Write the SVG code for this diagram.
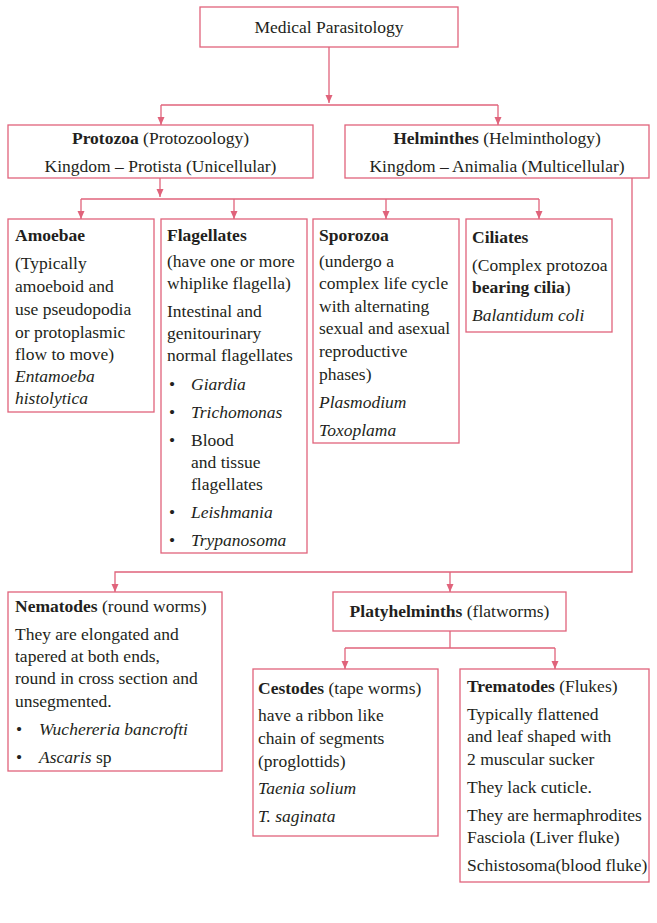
<svg xmlns="http://www.w3.org/2000/svg" width="657" height="923" viewBox="0 0 657 923">
<style>
.box{fill:#fff;stroke:#e0637b;stroke-width:1.3}
.ln{fill:none;stroke:#e0637b;stroke-width:1.3}
.t{font-family:"Liberation Serif","Times New Roman",serif;font-size:17.5px;fill:#231f20}
.b{font-weight:bold}
.i{font-style:italic}
.c{text-anchor:middle}
</style>
<defs>
<marker id="ah" markerUnits="userSpaceOnUse" markerWidth="9" markerHeight="8" refX="8" refY="3.5" orient="auto">
<path d="M0,0 L8,3.5 L0,7 z" fill="#e0637b"/>
</marker>
</defs>
<rect width="657" height="923" fill="#fff"/>
<g id="connectors">
<path class="ln" d="M329,47 V103" marker-end="url(#ah)"/>
<path class="ln" d="M161,105 H498"/>
<path class="ln" d="M161,105 V125" marker-end="url(#ah)"/>
<path class="ln" d="M498,105 V125" marker-end="url(#ah)"/>
<path class="ln" d="M160,178 V197" marker-end="url(#ah)"/>
<path class="ln" d="M81,199 H539"/>
<path class="ln" d="M81,199 V219" marker-end="url(#ah)"/>
<path class="ln" d="M234,199 V219" marker-end="url(#ah)"/>
<path class="ln" d="M386,199 V219" marker-end="url(#ah)"/>
<path class="ln" d="M539,199 V219" marker-end="url(#ah)"/>
<path class="ln" d="M632,178 V572 H115 V592" marker-end="url(#ah)"/>
<path class="ln" d="M450,572 V592" marker-end="url(#ah)"/>
<path class="ln" d="M450,631 V648"/>
<path class="ln" d="M345,648 H555"/>
<path class="ln" d="M345,648 V669" marker-end="url(#ah)"/>
<path class="ln" d="M555,648 V669" marker-end="url(#ah)"/>
</g>
<g id="medical-parasitology">
<rect class="box" x="200" y="7" width="258" height="40"/>
<text class="t c" x="329" y="33">Medical Parasitology</text>
</g>
<g id="protozoa">
<rect class="box" x="8" y="125" width="305" height="53"/>
<text class="t c" x="160.5" y="144"><tspan class="b">Protozoa</tspan> (Protozoology)</text>
<text class="t c" x="160.5" y="172">Kingdom – Protista (Unicellular)</text>
</g>
<g id="helminthes">
<rect class="box" x="345" y="125" width="304" height="53"/>
<text class="t c" x="497" y="144"><tspan class="b">Helminthes</tspan> (Helminthology)</text>
<text class="t c" x="497" y="172">Kingdom – Animalia (Multicellular)</text>
</g>
<g id="amoebae">
<rect class="box" x="8" y="219" width="146" height="193"/>
<text class="t b" x="15" y="241">Amoebae</text>
<text class="t" x="15" y="269">(Typically</text>
<text class="t" x="15" y="292">amoeboid and</text>
<text class="t" x="15" y="315">use pseudopodia</text>
<text class="t" x="15" y="338">or protoplasmic</text>
<text class="t" x="15" y="360">flow to move)</text>
<text class="t i" x="15" y="382">Entamoeba</text>
<text class="t i" x="15" y="404">histolytica</text>
</g>
<g id="flagellates">
<rect class="box" x="161" y="219" width="146" height="334"/>
<text class="t b" x="167" y="241">Flagellates</text>
<text class="t" x="167" y="267">(have one or more</text>
<text class="t" x="167" y="289">whiplike flagella)</text>
<text class="t" x="167" y="317">Intestinal and</text>
<text class="t" x="167" y="339">genitourinary</text>
<text class="t" x="167" y="361">normal flagellates</text>
<text class="t" x="169" y="390">•</text><text class="t i" x="191" y="390">Giardia</text>
<text class="t" x="169" y="418">•</text><text class="t i" x="191" y="418">Trichomonas</text>
<text class="t" x="169" y="446">•</text><text class="t" x="191" y="446">Blood</text>
<text class="t" x="191" y="468">and tissue</text>
<text class="t" x="191" y="490">flagellates</text>
<text class="t" x="169" y="518">•</text><text class="t i" x="191" y="518">Leishmania</text>
<text class="t" x="169" y="546">•</text><text class="t i" x="191" y="546">Trypanosoma</text>
</g>
<g id="sporozoa">
<rect class="box" x="313" y="219" width="146" height="224"/>
<text class="t b" x="319" y="241">Sporozoa</text>
<text class="t" x="319" y="267">(undergo a</text>
<text class="t" x="319" y="289">complex life cycle</text>
<text class="t" x="319" y="312">with alternating</text>
<text class="t" x="319" y="334">sexual and asexual</text>
<text class="t" x="319" y="357">reproductive</text>
<text class="t" x="319" y="380">phases)</text>
<text class="t i" x="319" y="408">Plasmodium</text>
<text class="t i" x="319" y="436">Toxoplama</text>
</g>
<g id="ciliates">
<rect class="box" x="466" y="219" width="146" height="113"/>
<text class="t b" x="472" y="243">Ciliates</text>
<text class="t" x="472" y="271">(Complex protozoa</text>
<text class="t" x="472" y="293"><tspan class="b">bearing cilia</tspan>)</text>
<text class="t i" x="472" y="321">Balantidum coli</text>
</g>
<g id="nematodes">
<rect class="box" x="8" y="592" width="214" height="179"/>
<text class="t" x="15" y="612"><tspan class="b">Nematodes</tspan> (round worms)</text>
<text class="t" x="15" y="640">They are elongated and</text>
<text class="t" x="15" y="662">tapered at both ends,</text>
<text class="t" x="15" y="684">round in cross section and</text>
<text class="t" x="15" y="707">unsegmented.</text>
<text class="t" x="16" y="735">•</text><text class="t i" x="39" y="735">Wuchereria bancrofti</text>
<text class="t" x="16" y="763">•</text><text class="t" x="39" y="763"><tspan class="i">Ascaris</tspan> sp</text>
</g>
<g id="platyhelminths">
<rect class="box" x="333" y="592" width="233" height="39"/>
<text class="t c" x="449.5" y="617"><tspan class="b">Platyhelminths</tspan> (flatworms)</text>
</g>
<g id="cestodes">
<rect class="box" x="253" y="669" width="185" height="167"/>
<text class="t" x="258" y="694"><tspan class="b">Cestodes</tspan> (tape worms)</text>
<text class="t" x="258" y="721">have a ribbon like</text>
<text class="t" x="258" y="744">chain of segments</text>
<text class="t" x="258" y="767">(proglottids)</text>
<text class="t i" x="258" y="794">Taenia solium</text>
<text class="t i" x="258" y="822">T. saginata</text>
</g>
<g id="trematodes">
<rect class="box" x="460" y="669" width="189" height="213"/>
<text class="t" x="467" y="692"><tspan class="b">Trematodes</tspan> (Flukes)</text>
<text class="t" x="467" y="720">Typically flattened</text>
<text class="t" x="467" y="742">and leaf shaped with</text>
<text class="t" x="467" y="765">2 muscular sucker</text>
<text class="t" x="467" y="793">They lack cuticle.</text>
<text class="t" x="467" y="821">They are hermaphrodites</text>
<text class="t" x="467" y="843">Fasciola (Liver fluke)</text>
<text class="t" x="467" y="871">Schistosoma(blood fluke)</text>
</g>
</svg>
